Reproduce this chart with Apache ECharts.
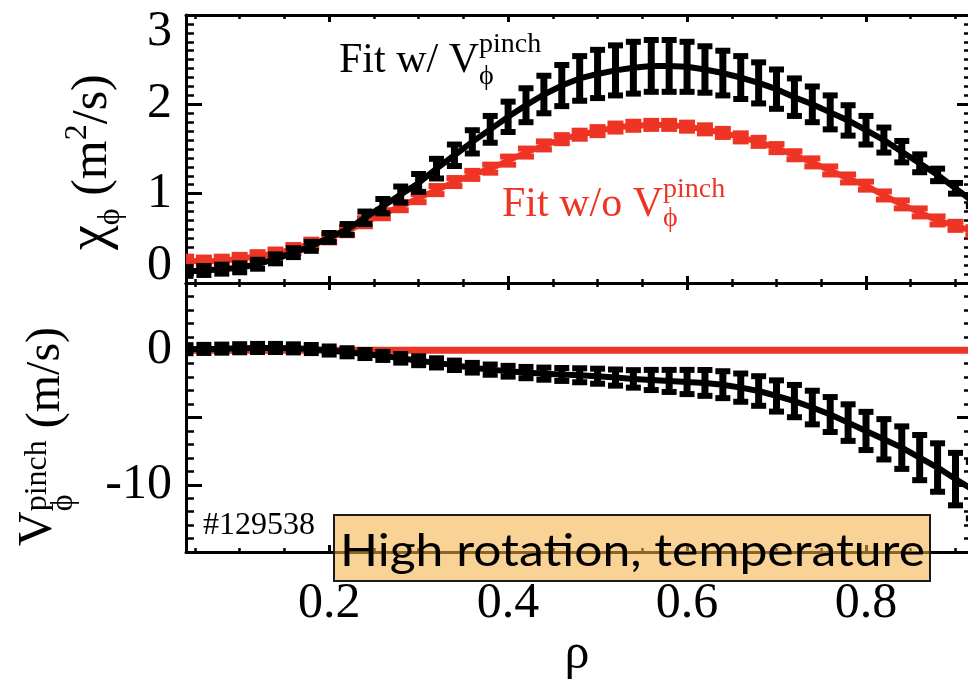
<!DOCTYPE html>
<html>
<head>
<meta charset="utf-8">
<title>chi_phi and V_pinch profiles</title>
<script src="https://cdn.jsdelivr.net/npm/echarts@6/dist/echarts.min.js"></script>
<style>
  html, body { margin: 0; padding: 0; background: #fff; }
  #chart { width: 968px; height: 691px; }
</style>
</head>
<body>
<div id="chart"></div>
<script>
// normalized radius of each fit point
var rho = [0.04, 0.06, 0.08, 0.10, 0.12, 0.14, 0.16, 0.18, 0.20, 0.22, 0.24, 0.26, 0.28, 0.30, 0.32,
           0.34, 0.36, 0.38, 0.40, 0.42, 0.44, 0.46, 0.48, 0.50, 0.52, 0.54, 0.56, 0.58, 0.60, 0.62,
           0.64, 0.66, 0.68, 0.70, 0.72, 0.74, 0.76, 0.78, 0.80, 0.82, 0.84, 0.86, 0.88, 0.90, 0.92];

// chi_phi (m^2/s), fit with pinch
var chiWith = [0.13, 0.14, 0.155, 0.17, 0.21, 0.27, 0.34, 0.41, 0.51, 0.60, 0.73, 0.86, 0.99, 1.12, 1.28,
               1.43, 1.58, 1.72, 1.86, 1.99, 2.11, 2.21, 2.29, 2.34, 2.38, 2.41, 2.43, 2.43, 2.42, 2.39,
               2.35, 2.30, 2.24, 2.17, 2.08, 2.00, 1.91, 1.82, 1.71, 1.60, 1.47, 1.34, 1.21, 1.06, 0.91];
var chiWithErr = [0.05, 0.05, 0.05, 0.05, 0.05, 0.05, 0.05, 0.05, 0.05, 0.06, 0.07, 0.08, 0.09, 0.10, 0.11,
                  0.12, 0.13, 0.15, 0.17, 0.19, 0.21, 0.23, 0.25, 0.27, 0.28, 0.29, 0.29, 0.29, 0.28, 0.26,
                  0.25, 0.24, 0.23, 0.22, 0.21, 0.20, 0.19, 0.17, 0.16, 0.14, 0.12, 0.10, 0.07, 0.06, 0.05];

// chi_phi (m^2/s), fit without pinch
var chiWithout = [0.25, 0.24, 0.25, 0.27, 0.30, 0.33, 0.38, 0.44, 0.50, 0.58, 0.68, 0.77, 0.86, 0.95, 1.04,
                  1.13, 1.21, 1.28, 1.37, 1.46, 1.54, 1.61, 1.66, 1.70, 1.74, 1.76, 1.77, 1.77, 1.75, 1.72,
                  1.68, 1.63, 1.58, 1.51, 1.43, 1.35, 1.26, 1.17, 1.09, 0.98, 0.88, 0.79, 0.70, 0.64, 0.58];
var chiWithoutErr = [0.045, 0.045, 0.045, 0.045, 0.045, 0.045, 0.045, 0.045, 0.045, 0.045, 0.045, 0.045, 0.045, 0.045, 0.045,
                     0.045, 0.045, 0.045, 0.045, 0.045, 0.045, 0.045, 0.045, 0.045, 0.045, 0.045, 0.045, 0.045, 0.045, 0.045,
                     0.045, 0.045, 0.045, 0.045, 0.045, 0.045, 0.045, 0.045, 0.045, 0.045, 0.045, 0.045, 0.045, 0.045, 0.045];

// V_phi pinch (m/s)
var vpWith = [0.08, 0.10, 0.12, 0.15, 0.17, 0.17, 0.14, 0.09, -0.02, -0.15, -0.28, -0.42, -0.60, -0.78, -0.94,
              -1.12, -1.30, -1.44, -1.56, -1.66, -1.74, -1.80, -1.86, -1.93, -2.03, -2.13, -2.21, -2.28, -2.36, -2.43,
              -2.56, -2.78, -3.03, -3.40, -3.78, -4.26, -4.78, -5.38, -6.00, -6.62, -7.24, -7.98, -8.72, -9.58, -10.40];
var vpWithErr = [0.30, 0.30, 0.30, 0.30, 0.30, 0.30, 0.30, 0.30, 0.30, 0.30, 0.30, 0.30, 0.32, 0.33, 0.34,
                 0.35, 0.36, 0.38, 0.40, 0.42, 0.45, 0.48, 0.52, 0.56, 0.60, 0.65, 0.75, 0.82, 0.90, 0.96,
                 1.00, 1.05, 1.10, 1.16, 1.20, 1.25, 1.30, 1.36, 1.42, 1.50, 1.58, 1.68, 1.80, 1.95, 2.10];
var vpWithout = [0, 0, 0, 0, 0, 0, 0, 0, 0, 0, 0, 0, 0, 0, 0,
                 0, 0, 0, 0, 0, 0, 0, 0, 0, 0, 0, 0, 0, 0, 0,
                 0, 0, 0, 0, 0, 0, 0, 0, 0, 0, 0, 0, 0, 0, 0];

var xMajorTicks = [0.2, 0.4, 0.6, 0.8];
var xMinorTicks = [0.05, 0.1, 0.15, 0.25, 0.3, 0.35, 0.45, 0.5, 0.55, 0.65, 0.7, 0.75, 0.85, 0.9];
var vpTickLabels = [0, -10];

var SERIF = "'Liberation Serif', 'Times New Roman', serif";
var SANS = "Lato, 'DejaVu Sans', sans-serif";
var RED = '#ee3424';
var X_MIN = 0.04, X_MAX = 0.914;

function pairs(xs, ys) {
  return xs.map(function (x, i) { return [x, ys[i]]; });
}
function triples(xs, ys, es) {
  return xs.map(function (x, i) { return [x, ys[i], es[i]]; });
}

// vertical bar with flat caps, drawn through the axis scales
function errorBars(capW, capH, barW) {
  return function (params, api) {
    var x = api.value(0), y = api.value(1), e = api.value(2);
    var hi = api.coord([x, y + e]);
    var lo = api.coord([x, y - e]);
    var fill = api.visual('color');
    return {
      type: 'group',
      children: [
        {type: 'rect', shape: {x: hi[0] - barW / 2, y: hi[1], width: barW, height: lo[1] - hi[1]}, style: {fill: fill}},
        {type: 'rect', shape: {x: hi[0] - capW / 2, y: hi[1] - capH / 2, width: capW, height: capH}, style: {fill: fill}},
        {type: 'rect', shape: {x: lo[0] - capW / 2, y: lo[1] - capH / 2, width: capW, height: capH}, style: {fill: fill}}
      ]
    };
  };
}

function xAxisOf(grid, pos, ticks, len, width, showLine) {
  return {
    type: 'value', gridIndex: grid, position: pos, min: X_MIN, max: X_MAX,
    axisLine: {show: showLine, onZero: false, lineStyle: {color: '#000', width: 3}},
    axisTick: {show: true, inside: true, length: len, customValues: ticks, lineStyle: {color: '#000', width: width}},
    axisLabel: {show: false},
    splitLine: {show: false}
  };
}

function yAxisOf(grid, pos, min, max, interval, minorSplit, isLeft, labelFmt) {
  return {
    type: 'value', gridIndex: grid, position: pos, min: min, max: max, interval: interval,
    axisLine: {show: isLeft, onZero: false, lineStyle: {color: '#000', width: 3}},
    axisTick: {show: true, inside: true, length: isLeft ? 16 : 11, lineStyle: {color: '#000', width: 3}},
    minorTick: {show: true, splitNumber: minorSplit, length: isLeft ? 8 : 4, lineStyle: {color: '#000', width: 2.5}},
    axisLabel: {
      show: isLeft, fontFamily: SERIF, fontSize: 50, color: '#000', margin: 14, lineHeight: 34,
      verticalAlignMinLabel: 'bottom', verticalAlignMaxLabel: 'top', formatter: labelFmt
    },
    splitLine: {show: false}
  };
}

// text helpers for the sub/superscript annotations
var measureCtx = document.createElement('canvas').getContext('2d');
function measure(t, size, family) {
  measureCtx.font = size + 'px ' + family;
  return measureCtx.measureText(t).width;
}
function formula(x, y, rotation, color, columns) {
  var children = [], lx = 0;
  columns.forEach(function (col) {
    var w = 0;
    col.forEach(function (p) {
      children.push({
        type: 'text', x: lx, y: (p.dy || 0) - 0.3 * p.size, z: 50,
        style: {text: p.t, fontSize: p.size, fontFamily: SERIF, fill: color, align: 'left', verticalAlign: 'middle'}
      });
      w = Math.max(w, measure(p.t, p.size, SERIF));
    });
    lx += w;
  });
  return {type: 'group', x: x, y: y, rotation: rotation, silent: true, z: 50, children: children};
}

var boxText = 'High rotation, temperature';
var boxScale = 585 / measure(boxText, 44, SANS);

var chart = echarts.init(document.getElementById('chart'));
chart.setOption({
  animation: false,
  backgroundColor: '#fff',
  grid: [
    {left: 186, right: 0, top: 15, height: 268},
    {left: 186, right: 0, top: 283, height: 269},
    {left: 186, right: 0, top: 15, height: 268},
    {left: 186, right: 0, top: 283, height: 269}
  ],
  xAxis: [
    xAxisOf(0, 'bottom', xMajorTicks, 7, 3, true),
    xAxisOf(0, 'top', xMajorTicks, 7, 3, true),
    Object.assign(xAxisOf(1, 'bottom', xMajorTicks, 7, 3, true), {
      name: 'ρ', nameLocation: 'middle', nameGap: 76,
      nameTextStyle: {fontFamily: SERIF, fontSize: 50, color: '#000'},
      axisLabel: {
        show: true, customValues: xMajorTicks, margin: 27,
        fontFamily: SERIF, fontSize: 50, color: '#000',
        formatter: function (v) { return v.toFixed(1); }
      }
    }),
    xAxisOf(1, 'top', xMajorTicks, 7, 3, true),
    xAxisOf(2, 'bottom', xMinorTicks, 4, 2.5, false),
    xAxisOf(2, 'top', xMinorTicks, 4, 2.5, false),
    xAxisOf(3, 'bottom', xMinorTicks, 4, 2.5, false),
    xAxisOf(3, 'top', xMinorTicks, 4, 2.5, false)
  ],
  yAxis: [
    yAxisOf(0, 'left', 0, 3, 1, 10, true),
    yAxisOf(0, 'right', 0, 3, 1, 10, false),
    yAxisOf(1, 'left', -15, 5, 5, 5, true, function (v) {
      return vpTickLabels.indexOf(v) >= 0 ? String(v) : '';
    }),
    yAxisOf(1, 'right', -15, 5, 5, 5, false),
    {type: 'value', gridIndex: 2, min: 0, max: 3, show: false},
    {type: 'value', gridIndex: 3, min: -15, max: 5, show: false}
  ],
  series: [
    {
      type: 'line', xAxisIndex: 0, yAxisIndex: 0, data: pairs(rho, chiWithout),
      showSymbol: false, silent: true, z: 2,
      lineStyle: {color: RED, width: 6}, itemStyle: {color: RED}
    },
    {
      type: 'custom', xAxisIndex: 0, yAxisIndex: 0, data: triples(rho, chiWithout, chiWithoutErr),
      encode: {x: 0, y: 1}, renderItem: errorBars(16, 6, 7), clip: true, silent: true, z: 3,
      itemStyle: {color: RED}
    },
    {
      type: 'line', xAxisIndex: 0, yAxisIndex: 0, data: pairs(rho, chiWith),
      showSymbol: false, silent: true, z: 4,
      lineStyle: {color: '#000', width: 6}, itemStyle: {color: '#000'}
    },
    {
      type: 'custom', xAxisIndex: 0, yAxisIndex: 0, data: triples(rho, chiWith, chiWithErr),
      encode: {x: 0, y: 1}, renderItem: errorBars(15, 6, 7), clip: true, silent: true, z: 5,
      itemStyle: {color: '#000'}
    },
    {
      type: 'line', xAxisIndex: 2, yAxisIndex: 2, data: pairs(rho, vpWithout),
      showSymbol: false, silent: true, z: 2,
      lineStyle: {color: RED, width: 7}, itemStyle: {color: RED}
    },
    {
      type: 'line', xAxisIndex: 2, yAxisIndex: 2, data: pairs(rho, vpWith),
      showSymbol: false, silent: true, z: 4,
      lineStyle: {color: '#000', width: 6}, itemStyle: {color: '#000'}
    },
    {
      type: 'custom', xAxisIndex: 2, yAxisIndex: 2, data: triples(rho, vpWith, vpWithErr),
      encode: {x: 0, y: 1}, renderItem: errorBars(15, 6, 7), clip: true, silent: true, z: 5,
      itemStyle: {color: '#000'}
    }
  ],
  graphic: [
    // y axis titles, read bottom to top
    formula(108, 250, Math.PI / 2, '#000', [
      [{t: 'χ', size: 56}],
      [{t: 'ϕ', size: 32, dy: 12}],
      [{t: ' (m', size: 50}],
      [{t: '2', size: 32, dy: -21}],
      [{t: '/s)', size: 50}]
    ]),
    formula(61, 546, Math.PI / 2, '#000', [
      [{t: 'V', size: 48, dy: -8}],
      [{t: 'pinch', size: 32, dy: -14}, {t: 'ϕ', size: 32, dy: 12}],
      [{t: ' (m/s)', size: 48}]
    ]),
    // curve labels
    formula(339, 74, 0, '#000', [
      [{t: 'Fit w/ V', size: 42}],
      [{t: 'pinch', size: 28, dy: -21}, {t: 'ϕ', size: 28, dy: 11}]
    ]),
    formula(502, 218, 0, RED, [
      [{t: 'Fit w/o V', size: 42}],
      [{t: 'pinch', size: 28, dy: -20}, {t: 'ϕ', size: 28, dy: 9}]
    ]),
    {
      type: 'text', x: 203, y: 535 - 0.3 * 32, z: 50, silent: true,
      style: {text: '#129538', fontSize: 32, fontFamily: SERIF, fill: '#000', verticalAlign: 'middle'}
    },
    {
      type: 'rect', z: 100, silent: true,
      shape: {x: 334, y: 515, width: 596, height: 66},
      style: {fill: 'rgba(245,175,70,0.57)', stroke: '#1a1a1a', lineWidth: 2}
    },
    {
      type: 'text', x: 340, y: 566 - 0.32 * 44, scaleX: boxScale, z: 101, silent: true,
      style: {text: boxText, fontSize: 44, fontFamily: SANS, fill: '#000', verticalAlign: 'middle'}
    }
  ]
});
</script>
</body>
</html>
